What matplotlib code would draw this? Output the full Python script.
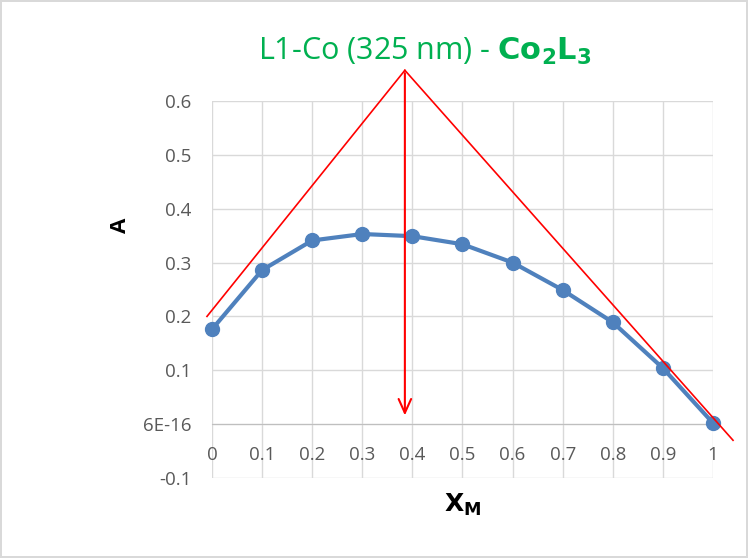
import numpy as np
import matplotlib
matplotlib.use("Agg")
import matplotlib.pyplot as plt

# mole fraction of metal vs absorbance (Job plot)
x_m = [0.0, 0.1, 0.2, 0.3, 0.4, 0.5, 0.6, 0.7, 0.8, 0.9, 1.0]
absorb = [0.176, 0.286, 0.341, 0.353, 0.349, 0.334, 0.300, 0.249, 0.189, 0.104, 0.002]

# tangent lines and their intersection
left_tan_x = [-0.01, 0.385]
left_tan_y = [0.200, 0.657]
right_tan_x = [0.385, 1.04]
right_tan_y = [0.657, -0.030]
arrow_x = 0.385
arrow_y = [0.657, 0.011]

y_ticks = [-0.1, 0.0, 0.1, 0.2, 0.3, 0.4, 0.5, 0.6]
y_labels = ["-0.1", "6E-16", "0.1", "0.2", "0.3", "0.4", "0.5", "0.6"]
x_ticks = [0, 0.1, 0.2, 0.3, 0.4, 0.5, 0.6, 0.7, 0.8, 0.9, 1]
x_labels = ["0", "0.1", "0.2", "0.3", "0.4", "0.5", "0.6", "0.7", "0.8", "0.9", "1"]

plt.rcParams["font.family"] = ["Open Sans", "DejaVu Sans"]
gray_txt = "#595959"
grid_c = "#d9d9d9"

fig = plt.figure(figsize=(7.48, 5.58), dpi=100)
fig.patch.set_edgecolor("#d9d9d9")
fig.patch.set_linewidth(1.5)
ax = fig.add_axes([0.2834, 0.1434, 0.6698, 0.6756])

ax.set_xlim(0, 1)
ax.set_ylim(-0.1, 0.6)
ax.set_xticks(x_ticks)
ax.set_xticklabels(x_labels)
ax.set_yticks(y_ticks)
ax.set_yticklabels(y_labels)
ax.grid(True, color=grid_c, lw=1.0)
ax.set_axisbelow(True)
for s in ["top", "right", "left"]:
    ax.spines[s].set_visible(False)
ax.spines["bottom"].set_position(("data", 0))
ax.spines["bottom"].set_color("#bfbfbf")
ax.tick_params(axis="both", length=0, colors=gray_txt, labelsize=13.5)
ax.tick_params(axis="x", pad=16)
ax.tick_params(axis="y", pad=15)

ax.plot(x_m, absorb, color="#4f81bd", lw=3, marker="o", ms=10, clip_on=False, zorder=3)

ax.plot(left_tan_x, left_tan_y, color="#ff0000", lw=1.2, clip_on=False, zorder=4)
ax.plot(right_tan_x, right_tan_y, color="#ff0000", lw=1.2, clip_on=False, zorder=4)
ax.annotate("", xy=(arrow_x, arrow_y[1]), xytext=(arrow_x, arrow_y[0]),
            arrowprops=dict(arrowstyle="->,head_length=1.0,head_width=0.45", color="#ff0000", lw=1.5),
            annotation_clip=False, zorder=4)

ax.set_ylabel("A", fontsize=16, fontweight="bold", color="#000000")
ax.yaxis.set_label_coords(-0.162, 0.671)
ax.set_xlabel(r"$\mathbf{X_M}$", fontsize=18, color="#000000")
ax.xaxis.set_label_coords(0.501, -0.072)
ax.xaxis.label.set_va("center")

fig.text(0.568, 0.908, r"L1-Co (325 nm) - $\mathbf{Co_2L_3}$", color="#00b050",
         fontsize=22, ha="center", va="center")

fig.savefig("out.png", dpi=100)
